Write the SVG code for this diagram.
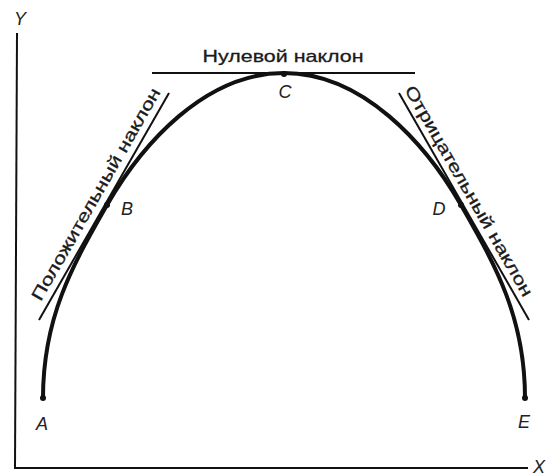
<svg xmlns="http://www.w3.org/2000/svg" width="555" height="476" viewBox="0 0 555 476">
<style>
.ax{stroke:#111;stroke-width:2;fill:none}
.curve{stroke:#111;stroke-width:4;fill:none;stroke-linecap:round}
.tan{stroke:#111;stroke-width:2;fill:none}
.lbl{font-family:"Liberation Sans",Arial,sans-serif;font-size:18px;font-style:italic;fill:#222}
.txt{font-family:"Liberation Sans",Arial,sans-serif;font-size:17px;fill:#1a1a1a;stroke:#1a1a1a;stroke-width:0.3}
.pt{fill:#111}
</style>
<rect width="555" height="476" fill="#fff"/>
<g id="axes">
<line class="ax" x1="17" y1="33" x2="15" y2="468"/>
<line class="ax" x1="14" y1="468" x2="528" y2="468"/>
<text class="lbl" x="20" y="25" text-anchor="middle">Y</text>
<text class="lbl" x="539" y="473" text-anchor="middle">X</text>
</g>
<g id="connectors">
<path class="curve" d="M43,398 C43,318 72,266 107,205 C142,144 205,73 284,73 C363,73 426,144 461,205 C496,266 525,318 525,398"/>
<line class="tan" x1="152" y1="73" x2="415" y2="73"/>
<line class="tan" x1="39" y1="320" x2="169" y2="93"/>
<line class="tan" x1="529" y1="320" x2="399" y2="93"/>
</g>
<g id="A"><circle class="pt" cx="43" cy="398" r="3"/><text class="lbl" x="42" y="430" text-anchor="middle">A</text></g>
<g id="B"><circle class="pt" cx="107" cy="205" r="3"/><text class="lbl" x="127" y="215" text-anchor="middle">B</text></g>
<g id="C"><circle class="pt" cx="284" cy="74" r="3"/><text class="lbl" x="285" y="98" text-anchor="middle">C</text></g>
<g id="D"><circle class="pt" cx="461" cy="205" r="3"/><text class="lbl" x="439" y="215" text-anchor="middle">D</text></g>
<g id="E"><circle class="pt" cx="525" cy="398" r="3"/><text class="lbl" x="524" y="428" text-anchor="middle">E</text></g>
<g id="zero-slope"><text class="txt" x="283" y="62" text-anchor="middle" textLength="161" lengthAdjust="spacingAndGlyphs">Нулевой наклон</text></g>
<g id="positive-slope"><text class="txt" transform="translate(101,197) rotate(-60.2)" x="0" y="0" text-anchor="middle" textLength="242" lengthAdjust="spacingAndGlyphs">Положительный наклон</text></g>
<g id="negative-slope"><text class="txt" transform="translate(464,194) rotate(60.2)" x="0" y="0" text-anchor="middle" textLength="240" lengthAdjust="spacingAndGlyphs">Отрицательный наклон</text></g>
</svg>
